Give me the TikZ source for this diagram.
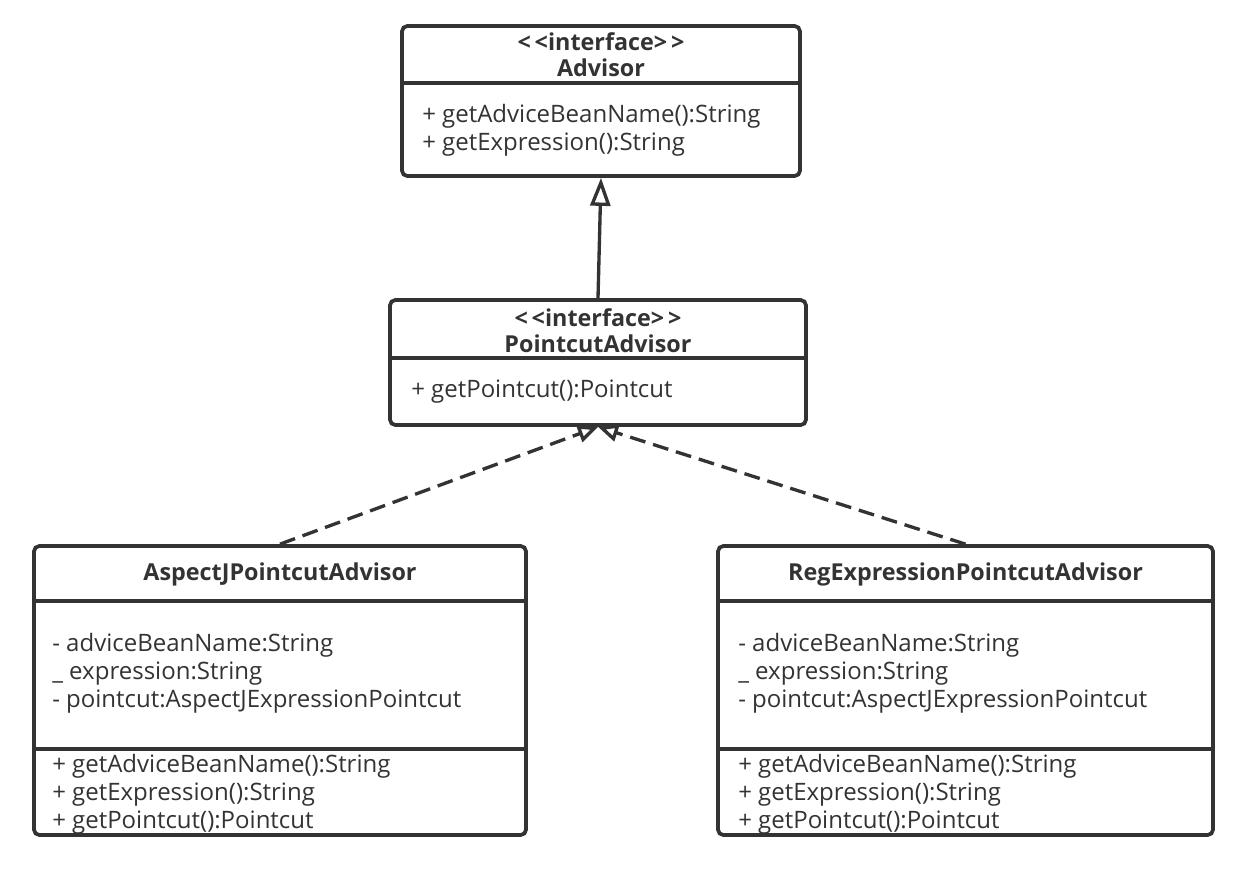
\documentclass[tikz,border=0pt]{standalone}
\usepackage{fontspec}
\setmainfont{Open Sans}
\usetikzlibrary{arrows.meta,fit}
\definecolor{umlgray}{RGB}{51,51,51}
\tikzset{
	classbox/.style={draw=umlgray, line width=2.8pt, rounded corners=4pt, inner sep=0pt},
	sepline/.style={draw=umlgray, line width=2.3pt},
	classname/.style={font=\bfseries\fontsize{17.5}{19.5}\selectfont, text=umlgray, align=center, inner sep=0pt},
	member/.style={font=\fontsize{18}{21}\selectfont, text=umlgray, align=left, anchor=west, inner sep=0pt},
	realize/.style={draw=umlgray, line width=2.5pt, -{Triangle[open, length=21pt, width=15pt]}},
	implement/.style={realize, dash pattern=on 12pt off 6pt, -{Triangle[open, length=15pt, width=13pt]}}
}
\begin{document}
	\begin{tikzpicture}[x=0.75pt,y=0.75pt,yscale=-1]
		\useasboundingbox (0,0) rectangle (1236,869);
		
		%Class [id:advisor]
		\node [classbox, fit={(402,26) (800,176)}] (adv) {};
		\draw [sepline] (adv.west |- 0,83) -- (adv.east |- 0,83);
		\node [classname] (advname) at (601,55) {<\,<interface>\,>\\Advisor};
		\node [member] (advops) at (422,130) {+ getAdviceBeanName():String\\+ getExpression():String};
		
		%Class [id:pointcutadvisor]
		\node [classbox, fit={(390,300) (806,425)}] (pca) {};
		\draw [sepline] (pca.west |- 0,358) -- (pca.east |- 0,358);
		\node [classname] (pcaname) at (598,331) {<\,<interface>\,>\\PointcutAdvisor};
		\node [member] (pcaops) at (411,392) {+ getPointcut():Pointcut};
		
		%Class [id:aspectj]
		\node [classbox, fit={(34,546) (526,835)}] (aspect) {};
		\draw [sepline] (aspect.west |- 0,601) -- (aspect.east |- 0,601);
		\draw [sepline] (aspect.west |- 0,749) -- (aspect.east |- 0,749);
		\node [classname] (aspectname) at (aspect.north |- 0,574) {AspectJPointcutAdvisor};
		\node [member] (aspectattrs) at (52,673) {- adviceBeanName:String\\\_ expression:String\\- pointcut:AspectJExpressionPointcut};
		\node [member] (aspectops) at (52,794) {+ getAdviceBeanName():String\\+ getExpression():String\\+ getPointcut():Pointcut};
		
		%Class [id:regexpression]
		\node [classbox, fit={(718,546) (1213,835)}] (reg) {};
		\draw [sepline] (reg.west |- 0,601) -- (reg.east |- 0,601);
		\draw [sepline] (reg.west |- 0,749) -- (reg.east |- 0,749);
		\node [classname] (regname) at (reg.north |- 0,574) {RegExpressionPointcutAdvisor};
		\node [member] (regattrs) at (738,673) {- adviceBeanName:String\\\_ expression:String\\- pointcut:AspectJExpressionPointcut};
		\node [member] (regops) at (738,794) {+ getAdviceBeanName():String\\+ getExpression():String\\+ getPointcut():Pointcut};
		
		%Connectors
		\draw [realize] (pca.north) -- (adv.south);
		\draw [implement] (aspect.north) -- (pca.south);
		\draw [implement] (reg.north) -- (pca.south);
	\end{tikzpicture}
\end{document}
